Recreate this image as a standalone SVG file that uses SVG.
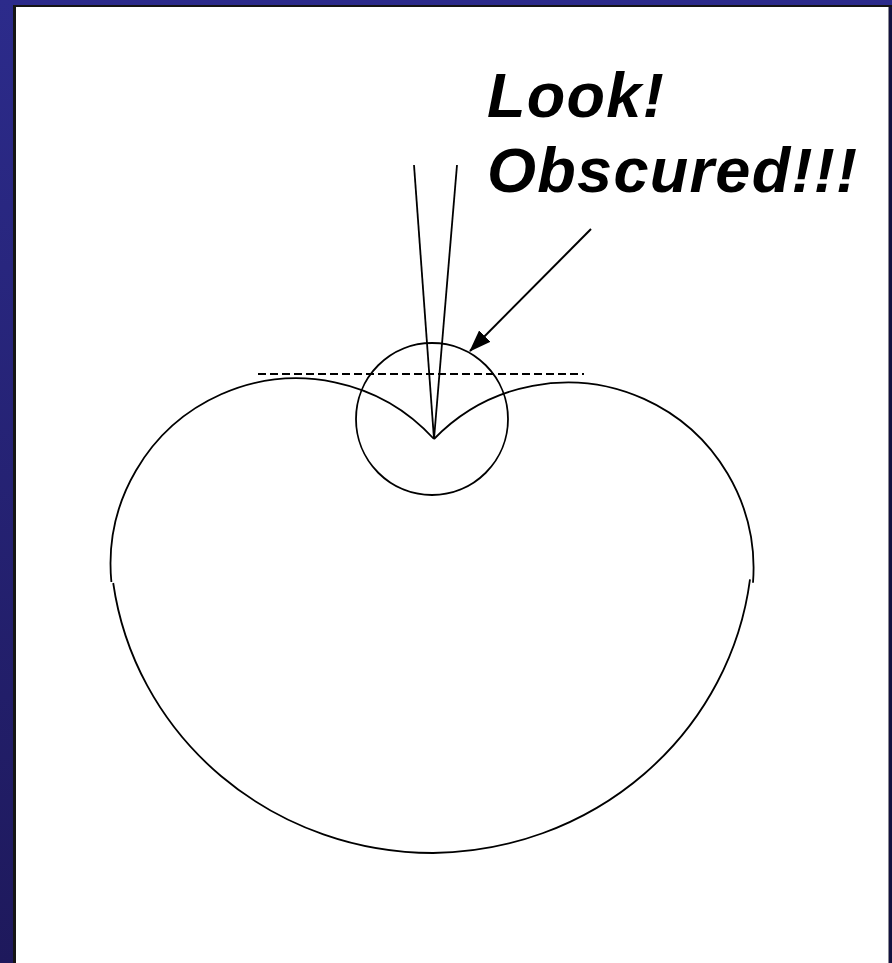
<svg xmlns="http://www.w3.org/2000/svg" width="892" height="963" viewBox="0 0 892 963">
<defs>
<linearGradient id="bg" x1="0" y1="0" x2="0" y2="1">
<stop offset="0" stop-color="#2C2B8B"/>
<stop offset="1" stop-color="#1E195C"/>
</linearGradient>
<marker id="ah" markerWidth="22" markerHeight="16" refX="21" refY="8" orient="auto" markerUnits="userSpaceOnUse" viewBox="0 0 22 16">
<path d="M0,0 L22,8 L0,16 Z" fill="#000"/>
</marker>
<style>
.ln{fill:none;stroke:#000;stroke-width:1.8}
.txt{font-family:"Liberation Sans",Arial,sans-serif;font-weight:bold;font-style:italic;font-size:63px;letter-spacing:1.3px;fill:#000}
</style>
</defs>
<g id="frame">
<rect x="0" y="0" width="892" height="963" fill="url(#bg)"/>
<rect x="13" y="5" width="879" height="958" fill="#151515"/>
<rect x="888.5" y="7" width="3.5" height="956" fill="#12113F"/>
<rect x="16" y="7" width="872.5" height="956" fill="#fff"/>
</g>
<g id="pattern">
<path class="ln" d="M434,439 A186,186 0 0 0 111.4,582"/>
<path class="ln" d="M434,439 A186,186 0 0 1 753,582.7"/>
<path class="ln" d="M113.2,583 A323,313 0 0 0 433,853 A323,313 0 0 0 750,579.3"/>
</g>
<g id="circle">
<circle class="ln" cx="432" cy="419" r="76"/>
</g>
<g id="connectors">
<line class="ln" x1="591" y1="229" x2="470" y2="351" style="stroke-width:2" marker-end="url(#ah)"/>
<line class="ln" x1="414" y1="165" x2="434" y2="439"/>
<line class="ln" x1="457" y1="165" x2="434" y2="439"/>
<line class="ln" x1="258" y1="374" x2="584" y2="374" stroke-dasharray="8 4"/>
</g>
<g id="label">
<text class="txt" x="487" y="117">Look!</text>
<text class="txt" x="487" y="192">Obscured!!!</text>
</g>
</svg>
